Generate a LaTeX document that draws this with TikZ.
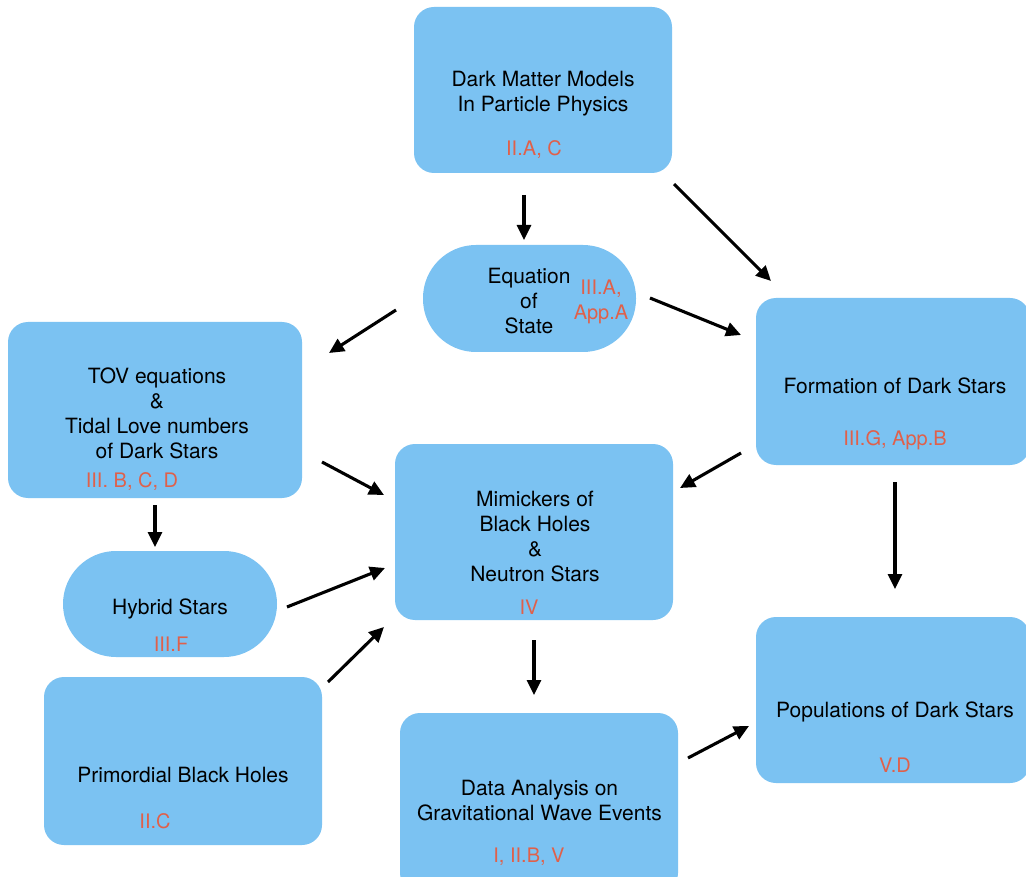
\documentclass[tikz,border=0pt]{standalone}
\usepackage{fontspec}
\setmainfont{TeX Gyre Heros}
\usetikzlibrary{arrows.meta}
\definecolor{boxblue}{HTML}{7BC2F2}
\definecolor{secred}{HTML}{E0604A}
\begin{document}
\begin{tikzpicture}[x=1pt,y=-1pt,
  box/.style={fill=boxblue, draw=none, rounded corners=20pt, inner sep=0pt},
  pill/.style={fill=boxblue, draw=none, rounded corners=53pt, inner sep=0pt},
  lbl/.style={font=\fontsize{21}{25}\selectfont, align=center, inner sep=0pt, text=black, yshift=-2.5pt},
  sec/.style={font=\fontsize{20}{25}\selectfont, align=center, inner sep=0pt, text=secred, yshift=-2pt},
  arr/.style={-{Triangle[length=15pt,width=14pt]}, line width=3.1pt}]
\clip (0,0) rectangle (1026,877);
\fill[white] (0,0) rectangle (1026,877);
% boxes
\node[box, minimum width=258pt, minimum height=166pt] (dm) at (543,90) {};
\node[pill, minimum width=213pt, minimum height=107pt] (eos) at (529.5,298.5) {};
\node[box, minimum width=294pt, minimum height=176pt] (tov) at (155,410) {};
\node[box, minimum width=274pt, minimum height=167pt] (form) at (893,381.5) {};
\node[box, minimum width=278pt, minimum height=176pt] (mim) at (534,532) {};
\node[pill, minimum width=214pt, minimum height=106pt] (hyb) at (170,604) {};
\node[box, minimum width=278pt, minimum height=168pt] (pbh) at (183,761) {};
\node[box, minimum width=278pt, minimum height=180pt] (gw) at (539,803) {};
\node[box, minimum width=274pt, minimum height=166pt] (pop) at (893,700) {};
% texts
\node[lbl] (dmt) at (543,91) {Dark Matter Models\\In Particle Physics};
\node[sec] (dms) at (534,148) {II.A, C};
\node[lbl] (eost) at (529,299) {Equation\\of\\State};
\node[sec] (eoss) at (601,300) {III.A,\\App.A};
\node[lbl] (tovt) at (157,411) {TOV equations\\\&\\Tidal Love numbers\\of Dark Stars};
\node[sec] (tovs) at (132,479) {III. B, C, D};
\node[lbl] (formt) at (895,383) {Formation of Dark Stars};
\node[sec] (forms) at (895,438) {III.G, App.B};
\node[lbl] (mimt) at (535,534) {Mimickers of\\Black Holes\\\&\\Neutron Stars};
\node[sec] (mims) at (529,605) {IV};
\node[lbl] (hybt) at (170,606) {Hybrid Stars};
\node[sec] (hybs) at (171,642) {III.F};
\node[lbl] (pbht) at (183,772) {Primordial Black Holes};
\node[sec] (pbhs) at (155,819) {II.C};
\node[lbl] (gwt) at (539.5,798) {Data Analysis on\\Gravitational Wave Events};
\node[sec] (gws) at (529,855) {I, II.B, V};
\node[lbl] (popt) at (895,709) {Populations of Dark Stars};
\node[sec] (pops) at (895,763) {V.D};
% arrow end points
\coordinate (a1s) at (524,195);  \coordinate (a1e) at (524,240);
\coordinate (a2s) at (674,184);  \coordinate (a2e) at (771,281);
\coordinate (a3s) at (396,310);  \coordinate (a3e) at (329,353);
\coordinate (a4s) at (650,298);  \coordinate (a4e) at (741,335);
\coordinate (a5s) at (322,462);  \coordinate (a5e) at (384,495);
\coordinate (a6s) at (155,505);  \coordinate (a6e) at (155,547);
\coordinate (a7s) at (287,607);  \coordinate (a7e) at (385,568);
\coordinate (a8s) at (328,682);  \coordinate (a8e) at (384,627);
\coordinate (a9s) at (741,453);  \coordinate (a9e) at (680,488);
\coordinate (a10s) at (895,482); \coordinate (a10e) at (895,589);
\coordinate (a11s) at (534,640); \coordinate (a11e) at (534,695);
\coordinate (a12s) at (688,758); \coordinate (a12e) at (749,726);
\draw[arr] (a1s) -- (a1e);
\draw[arr] (a2s) -- (a2e);
\draw[arr] (a3s) -- (a3e);
\draw[arr] (a4s) -- (a4e);
\draw[arr] (a5s) -- (a5e);
\draw[arr] (a6s) -- (a6e);
\draw[arr] (a7s) -- (a7e);
\draw[arr] (a8s) -- (a8e);
\draw[arr] (a9s) -- (a9e);
\draw[arr] (a10s) -- (a10e);
\draw[arr] (a11s) -- (a11e);
\draw[arr] (a12s) -- (a12e);
\end{tikzpicture}
\end{document}
